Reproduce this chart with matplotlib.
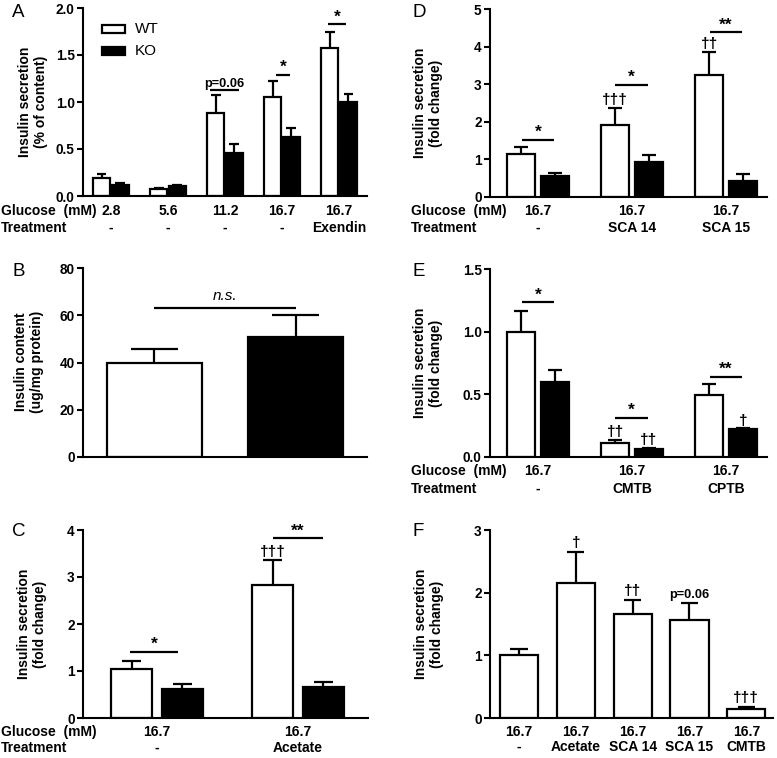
import matplotlib
matplotlib.use("Agg")
import matplotlib.pyplot as plt
from matplotlib.patches import Rectangle
from matplotlib.transforms import blended_transform_factory

# --- data ---
# A: insulin secretion, % of content
a_glucose = ["2.8", "5.6", "11.2", "16.7", "16.7"]
a_treatment = ["-", "-", "-", "-", "Exendin"]
a_wt = [0.19, 0.075, 0.88, 1.05, 1.57]
a_wt_sem = [0.045, 0.005, 0.19, 0.17, 0.17]
a_ko = [0.12, 0.105, 0.455, 0.625, 1.0]
a_ko_sem = [0.015, 0.01, 0.10, 0.095, 0.085]

# B: insulin content
b_groups = ["WT", "KO"]
b_content = [39.6, 50.7]
b_sem = [6.3, 9.3]

# C: acetate
c_glucose = ["16.7", "16.7"]
c_treatment = ["-", "Acetate"]
c_wt = [1.05, 2.82]
c_wt_sem = [0.17, 0.54]
c_ko = [0.62, 0.66]
c_ko_sem = [0.10, 0.11]

# D: SCA 14 / SCA 15
d_glucose = ["16.7", "16.7", "16.7"]
d_treatment = ["-", "SCA 14", "SCA 15"]
d_wt = [1.14, 1.92, 3.24]
d_wt_sem = [0.19, 0.46, 0.61]
d_ko = [0.57, 0.93, 0.42]
d_ko_sem = [0.08, 0.20, 0.18]

# E: CMTB / CPTB
e_glucose = ["16.7", "16.7", "16.7"]
e_treatment = ["-", "CMTB", "CPTB"]
e_wt = [1.0, 0.115, 0.493]
e_wt_sem = [0.165, 0.024, 0.088]
e_ko = [0.597, 0.067, 0.221]
e_ko_sem = [0.096, 0.008, 0.008]

# F: WT only
f_glucose = ["16.7", "16.7", "16.7", "16.7", "16.7"]
f_treatment = ["-", "Acetate", "SCA 14", "SCA 15", "CMTB"]
f_val = [1.0, 2.16, 1.66, 1.57, 0.143]
f_sem = [0.10, 0.49, 0.23, 0.26, 0.03]

# --- style ---
plt.rcParams.update({
    "font.family": ["Liberation Sans", "DejaVu Sans"],
    "font.weight": "bold",
    "font.size": 10,
    "axes.linewidth": 1.5,
    "ytick.major.width": 1.5,
    "ytick.major.size": 4.5,
    "ytick.labelsize": 9.8,
})

W, H = 777, 758
fig = plt.figure(figsize=(W / 100, H / 100), dpi=100)


def px_axes(x0, x1, ytop, ybot):
    return fig.add_axes([x0 / W, 1 - ybot / H, (x1 - x0) / W, (ybot - ytop) / H])


def style(ax, xlim, ylim, yticks, fmt):
    for s in ["top", "right"]:
        ax.spines[s].set_visible(False)
    ax.set_xlim(*xlim)
    ax.set_ylim(*ylim)
    ax.set_yticks(yticks)
    ax.set_yticklabels([fmt.format(t) for t in yticks])
    ax.tick_params(axis="x", bottom=False, labelbottom=False)
    ax.tick_params(axis="y", direction="out", pad=1.5)


def bars(ax, x, vals, sems, width, color, cap=0.5):
    ax.bar(x, vals, width, color=color, edgecolor="black", linewidth=1.6, zorder=2)
    for xi, v, e in zip(x, vals, sems):
        ax.plot([xi, xi], [v, v + e], color="black", lw=1.6, zorder=1, solid_capstyle="butt")
        ax.plot([xi - width * cap / 2, xi + width * cap / 2], [v + e, v + e],
                color="black", lw=1.6, zorder=1, solid_capstyle="butt")


def bracket(ax, x0, x1, y, label, fs=12.5):
    ax.plot([x0, x1], [y, y], color="black", lw=1.6, clip_on=False, solid_capstyle="butt")
    ax.text((x0 + x1) / 2, y, label, ha="center", va="bottom", fontsize=fs, clip_on=False)


def dagger(ax, x, y, label, fs=11):
    ax.text(x, y, label, ha="center", va="bottom", fontsize=fs, clip_on=False)


def xrows(ax, x, glucose, treatment, y_glu, y_trt, row_x=None):
    tr = blended_transform_factory(ax.transData, fig.transFigure)
    for xi, g, t in zip(x, glucose, treatment):
        ax.text(xi, 1 - y_glu / H, g, transform=tr, ha="center", va="center")
        ax.text(xi, 1 - y_trt / H, t, transform=tr, ha="center", va="center")
    if row_x is not None:
        fig.text(row_x / W, 1 - y_glu / H, "Glucose  (mM)", ha="left", va="center")
        fig.text(row_x / W, 1 - y_trt / H, "Treatment", ha="left", va="center")


def ylab(x, y, text):
    fig.text(x / W, 1 - y / H, text, rotation=90, ha="center", va="center",
             multialignment="center", linespacing=1.15)


def letter(x, y, s):
    fig.text(x / W, 1 - y / H, s, fontsize=13.5, fontweight="normal", ha="left", va="top")


# ---------------- A ----------------
axA = px_axes(83, 367, 8, 196)
xa = list(range(len(a_wt)))
bars(axA, [i - 0.165 for i in xa], a_wt, a_wt_sem, 0.29, "white", cap=0.6)
bars(axA, [i + 0.165 for i in xa], a_ko, a_ko_sem, 0.29, "black", cap=0.6)
style(axA, (-0.49, 4.49), (0, 2.0), [0, 0.5, 1.0, 1.5, 2.0], "{:.1f}")
bracket(axA, 2 - 0.27, 2 + 0.25, 1.13, "p=0.06", fs=9.2)
bracket(axA, 3 - 0.10, 3 + 0.14, 1.286, "*")
bracket(axA, 4 - 0.20, 4 + 0.13, 1.826, "*")
xrows(axA, xa, a_glucose, a_treatment, 211, 228, row_x=1)
for yy, fc, lab in [(0.91, "white", "WT"), (0.793, "black", "KO")]:
    axA.add_patch(Rectangle((0.067, yy - 0.045), 0.081, 0.045, transform=axA.transAxes,
                            facecolor=fc, edgecolor="black", lw=1.6))
    axA.text(0.183, yy - 0.0225, lab, transform=axA.transAxes, ha="left", va="center",
             fontsize=11, fontweight="normal")
ylab(33, 102, "Insulin secretion\n(% of content)")
letter(12, 4, "A")

# ---------------- D ----------------
axD = px_axes(490, 767, 9, 197)
xd = list(range(len(d_wt)))
bars(axD, [i - 0.18 for i in xd], d_wt, d_wt_sem, 0.30, "white")
bars(axD, [i + 0.18 for i in xd], d_ko, d_ko_sem, 0.30, "black")
style(axD, (-0.51, 2.436), (0, 5), [0, 1, 2, 3, 4, 5], "{:d}")
bracket(axD, -0.17, 0.17, 1.51, "*")
bracket(axD, 1 - 0.18, 1 + 0.17, 2.975, "*")
bracket(axD, 2 - 0.17, 2 + 0.17, 4.38, "**")
dagger(axD, 1 - 0.18, d_wt[1] + d_wt_sem[1] + 0.02, "†††")
dagger(axD, 2 - 0.18, d_wt[2] + d_wt_sem[2] + 0.02, "††")
xrows(axD, xd, d_glucose, d_treatment, 211, 228, row_x=411)
ylab(428, 103, "Insulin secretion\n(fold change)")
letter(413, 4, "D")

# ---------------- B ----------------
axB = px_axes(83, 367, 268, 457)
xb = [0, 1]
bars(axB, xb, b_content, b_sem, 0.674, "white")
axB.patches[1].set_facecolor("black")
style(axB, (-0.507, 1.507), (0, 80), [0, 20, 40, 60, 80], "{:d}")
axB.plot([0, 1], [62.9, 62.9], color="black", lw=1.6, solid_capstyle="butt")
axB.text(0.5, 65.0, "n.s.", ha="center", va="bottom", fontsize=11,
         fontstyle="italic", fontweight="normal")
ylab(29, 362, "Insulin content\n(ug/mg protein)")
letter(12, 263, "B")

# ---------------- E ----------------
axE = px_axes(490, 767, 269, 457)
xe = list(range(len(e_wt)))
bars(axE, [i - 0.18 for i in xe], e_wt, e_wt_sem, 0.30, "white")
bars(axE, [i + 0.18 for i in xe], e_ko, e_ko_sem, 0.30, "black")
style(axE, (-0.51, 2.436), (0, 1.5), [0, 0.5, 1.0, 1.5], "{:.1f}")
bracket(axE, -0.17, 0.17, 1.234, "*")
bracket(axE, 1 - 0.18, 1 + 0.17, 0.312, "*")
bracket(axE, 2 - 0.17, 2 + 0.17, 0.64, "**")
dagger(axE, 1 - 0.18, e_wt[1] + e_wt_sem[1] + 0.005, "††")
dagger(axE, 1 + 0.18, e_ko[1] + e_ko_sem[1] + 0.005, "††")
dagger(axE, 2 + 0.18, e_ko[2] + e_ko_sem[2] + 0.005, "†")
xrows(axE, xe, e_glucose, e_treatment, 471, 489, row_x=411)
ylab(428, 363, "Insulin secretion\n(fold change)")
letter(413, 263, "E")

# ---------------- C ----------------
axC = px_axes(83, 368, 530, 718)
xc = [0, 1]
bars(axC, [i - 0.18 for i in xc], c_wt, c_wt_sem, 0.29, "white", cap=0.45)
bars(axC, [i + 0.18 for i in xc], c_ko, c_ko_sem, 0.29, "black", cap=0.45)
style(axC, (-0.525, 1.496), (0, 4), [0, 1, 2, 3, 4], "{:d}")
bracket(axC, -0.19, 0.15, 1.40, "*")
bracket(axC, 1 - 0.18, 1 + 0.18, 3.82, "**")
dagger(axC, 1 - 0.18, c_wt[1] + c_wt_sem[1] + 0.02, "†††")
xrows(axC, xc, c_glucose, c_treatment, 732, 748, row_x=1)
ylab(32, 624, "Insulin secretion\n(fold change)")
letter(12, 523, "C")

# ---------------- F ----------------
axF = px_axes(490, 773, 530, 718)
xf = list(range(len(f_val)))
bars(axF, xf, f_val, f_sem, 0.67, "white", cap=0.45)
style(axF, (-0.511, 4.47), (0, 3), [0, 1, 2, 3], "{:d}")
dagger(axF, 1, f_val[1] + f_sem[1] + 0.03, "†")
dagger(axF, 2, f_val[2] + f_sem[2] + 0.03, "††")
dagger(axF, 3, f_val[3] + f_sem[3] + 0.03, "p=0.06", fs=9.2)
dagger(axF, 4, f_val[4] + f_sem[4] + 0.03, "†††")
xrows(axF, xf, f_glucose, f_treatment, 732, 747)
ylab(429, 624, "Insulin secretion\n(fold change)")
letter(413, 523, "F")

fig.savefig("out.png", dpi=100, facecolor="white")
